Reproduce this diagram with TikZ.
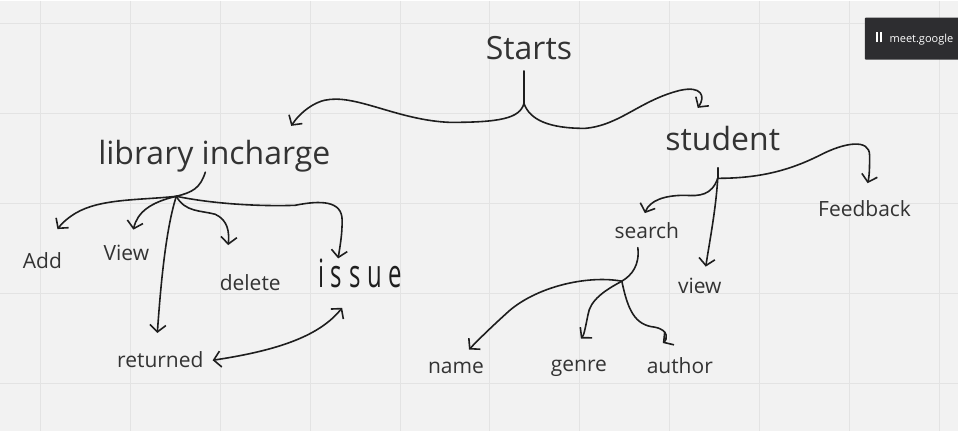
\documentclass[tikz,border=0pt]{standalone}
\usepackage{fontspec}
\setmainfont{Open Sans}
\newfontfamily\issuefont[LetterSpace=28]{Open Sans}
\usepackage{graphicx}
\usetikzlibrary{arrows.meta,positioning,calc}
\definecolor{board}{HTML}{F2F2F2}
\definecolor{gridline}{HTML}{E3E3E3}
\definecolor{ink}{HTML}{1E1E1E}
\definecolor{popup}{HTML}{2D2D30}

\begin{document}
\begin{tikzpicture}[x=1pt,y=-1pt,
  >={Straight Barb[length=7pt,width=16pt]},
  pen/.style={draw=ink,line width=1.6pt,line cap=round,line join=round},
  big/.style={text=black!80,font=\fontsize{32}{36}\selectfont,inner sep=0pt,anchor=base},
  leaf/.style={text=black!80,font=\fontsize{21}{24}\selectfont,inner sep=0pt,anchor=base},
  hand/.style={text=ink,font=\issuefont\fontsize{30}{34}\selectfont,inner sep=0pt,anchor=base},
  popupbox/.style={fill=popup,text=white,font=\fontsize{11}{13}\selectfont,rounded corners=1pt,
    minimum height=42pt,minimum width=100pt,anchor=north west,inner xsep=9pt,align=left}]
  % whiteboard
  \fill[board] (0,0) rectangle (958,431);
  \foreach \gx in {40,130,...,940} \draw[gridline,line width=1pt] (\gx,0) -- (\gx,431);
  \foreach \gy in {23,113,...,383} \draw[gridline,line width=1pt] (0,\gy) -- (958,\gy);
  \useasboundingbox (0,0) rectangle (958,431);

  % labels
  \node[big] (starts) at (529,59) {Starts};
  \node[big] (lib) at (214,164) {library incharge};
  \node[big] (student) at (723,150) {student};
  \node[leaf] (add) at (42,268) {Add};
  \node[leaf] (view) at (126,260) {View};
  \node[leaf] (delete) at (250,290) {delete};
  \node[hand] (issue) at (360,287) {\scalebox{0.8}[1.3]{issue}};
  \node[leaf] (returned) at (160,367) {returned};
  \node[leaf] (search) at (647,238) {search};
  \node[leaf] (sview) at (700,293) {view};
  \node[leaf] (feedback) at (865,216) {Feedback};
  \node[leaf] (name) at (456,373) {name};
  \node[leaf] (genre) at (579,371) {genre};
  \node[leaf] (author) at (680,373) {author};
  \node[popupbox] (meet) at (865,17) {\rule{1.4pt}{10pt}\hspace{2.6pt}\rule{1.4pt}{10pt}\hspace{8pt}meet.google};

  % hubs where the strokes split
  \coordinate (sHub) at (524,103);
  \coordinate (lHub) at (176,196);
  \coordinate (tHub) at (718,178);
  \coordinate (qHub) at (622,281);

  % Starts
  \draw[pen] ([shift={(-5,11)}]starts.south) -- (sHub);
  \draw[pen,->] (sHub) .. controls (520,118) and (500,122) .. (450,122)
    .. controls (400,120) and (360,96) .. (330,99)
    .. controls (315,100) and (300,112) .. ([shift={(77,-14)}]lib.north);
  \draw[pen,->] (sHub) .. controls (530,120) and (550,128) .. (585,128)
    .. controls (620,125) and (640,100) .. (680,90)
    .. controls (702,85) and (706,96) .. ([shift={(-25,-18)}]student.north);

  % library incharge
  \draw[pen] ([shift={(-9,0)}]lib.south) .. controls (200,188) and (192,192) .. (lHub);
  \draw[pen,->] (lHub) .. controls (140,200) and (100,198) .. (75,213)
    .. controls (65,219) and (60,225) .. ([shift={(15,-23)}]add.north);
  \draw[pen,->] (lHub) .. controls (150,202) and (137,212) .. ([shift={(7,-15)}]view.north);
  \draw[pen,->] (lHub) .. controls (165,230) and (160,290) .. ([shift={(-3,-18)}]returned.north);
  \draw[pen,->] (lHub) .. controls (185,212) and (200,210) .. (215,214)
    .. controls (228,220) and (229,232) .. ([shift={(-22,-29)}]delete.north);
  \draw[pen,->] (lHub) .. controls (220,205) and (270,206) .. (295,205)
    .. controls (320,200) and (342,200) .. (342,220)
    .. controls (342,235) and (340,245) .. ([shift={(-22,0)}]issue.north);
  \draw[pen,<->] ([shift={(9,1)}]returned.east) .. controls (280,350) and (320,335)
    .. ([shift={(-18,20)}]issue.south);

  % student
  \draw[pen] ([shift={(-5,17)}]student.south) -- (tHub);
  \draw[pen,->] (tHub) .. controls (760,178) and (790,170) .. (820,155)
    .. controls (845,142) and (870,138) .. (870,155)
    .. controls (870,165) and (870,175) .. ([shift={(3,-17)}]feedback.north);
  \draw[pen,->] (tHub) .. controls (712,195) and (700,196) .. (685,195)
    .. controls (665,195) and (650,200) .. ([shift={(-2,-9)}]search.north);
  \draw[pen,->] (tHub) .. controls (716,210) and (710,240) .. ([shift={(6,-11)}]sview.north);

  % search
  \draw[pen] ([shift={(-9,9)}]search.south) .. controls (640,265) and (632,275) .. (qHub);
  \draw[pen,->] (qHub) .. controls (590,275) and (540,285) .. (510,310)
    .. controls (490,328) and (478,340) .. ([shift={(13,-12)}]name.north);
  \draw[pen,->] (qHub) .. controls (605,290) and (590,300) .. (588,315)
    .. controls (585,330) and (584,335) .. ([shift={(2,-21)}]genre.north);
  \draw[pen,->] (qHub) .. controls (628,310) and (635,325) .. (655,327)
    .. controls (670,330) and (667,340) .. ([shift={(-17,-14)}]author.north);
\end{tikzpicture}
\end{document}
